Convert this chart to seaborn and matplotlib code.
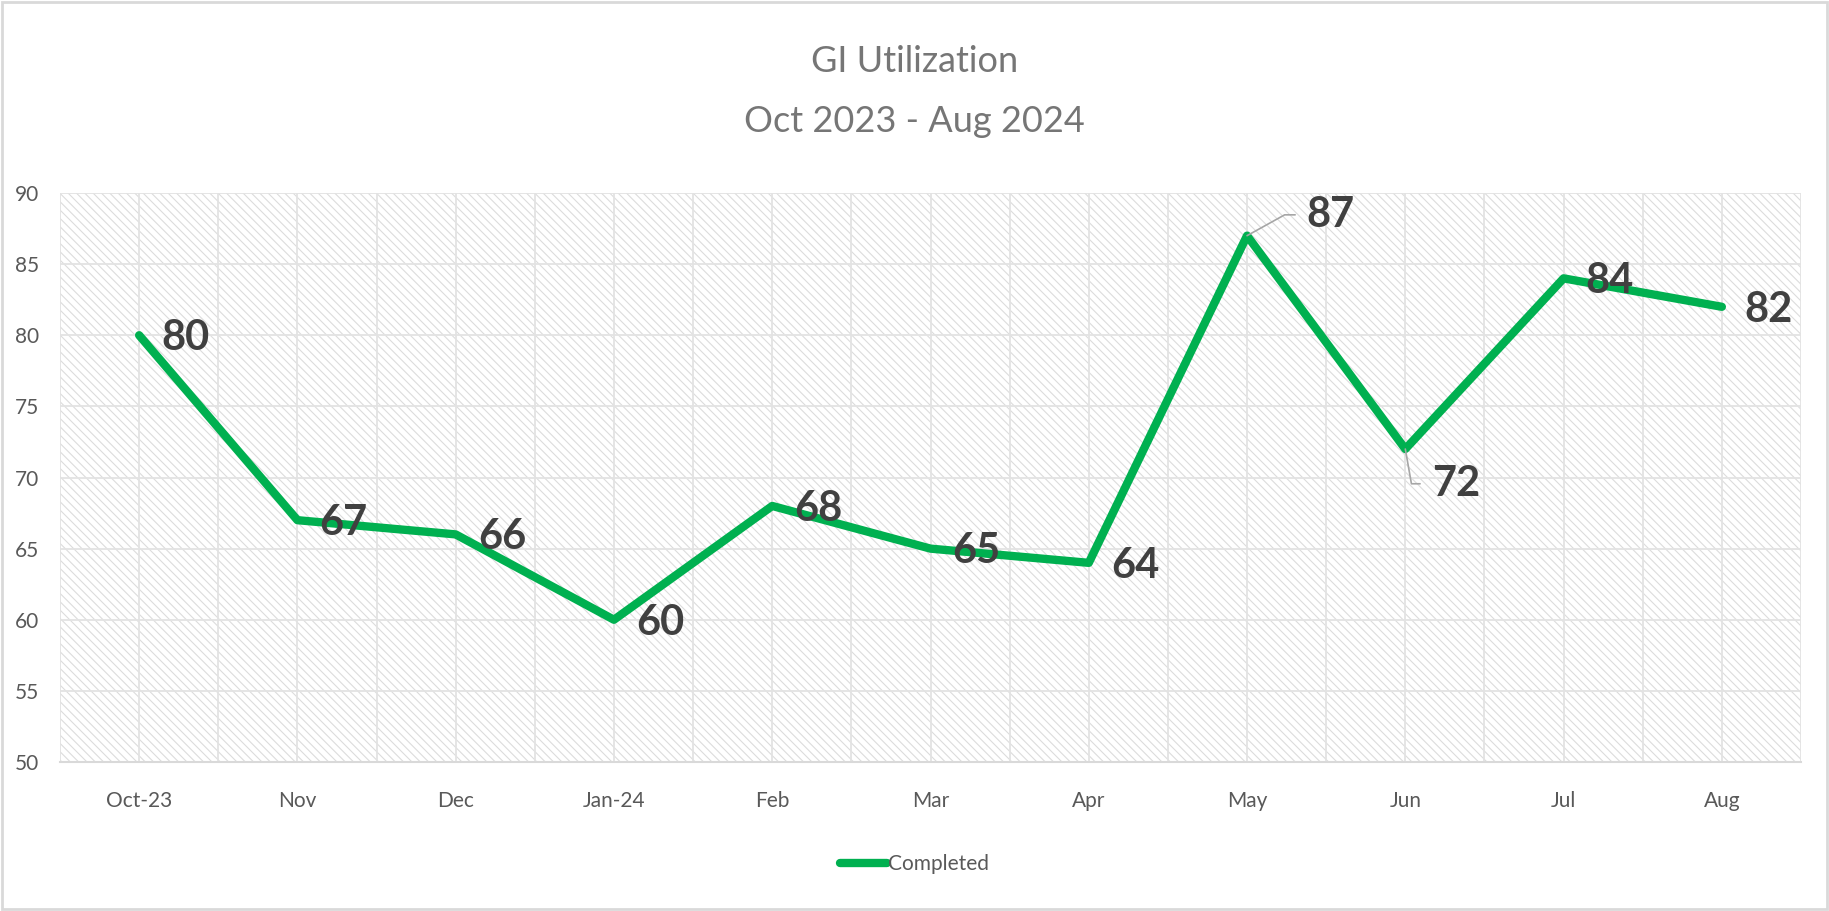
import numpy as np
import pandas as pd
import matplotlib
matplotlib.use("Agg")
import matplotlib.pyplot as plt
from matplotlib.patches import Rectangle
import seaborn as sns

months = ["Oct-23", "Nov", "Dec", "Jan-24", "Feb", "Mar", "Apr", "May", "Jun", "Jul", "Aug"]
completed = [80, 67, 66, 60, 68, 65, 64, 87, 72, 84, 82]
title_line1 = "GI Utilization"
title_line2 = "Oct 2023 - Aug 2024"
series_name = "Completed"

sns.set_theme(style="white")
FONT = ["Lato", "DejaVu Sans"]
plt.rcParams["font.family"] = FONT
plt.rcParams["hatch.linewidth"] = 0.8

GREEN = "#00B050"
TICK_C = "#595959"
LABEL_C = "#404040"
GRID_C = "#e3e3e3"

df = pd.DataFrame({"x": np.arange(len(months)), "Month": months, series_name: completed})

fig = plt.figure(figsize=(18.29, 9.11), dpi=100)
ax = fig.add_axes([60 / 1829, 1 - 762 / 911, (1801 - 60) / 1829, (762 - 193) / 911])

# hatched plot area
ax.add_patch(Rectangle((0, 0), 1, 1, transform=ax.transAxes, facecolor="white",
                       edgecolor="#dcdcdc", hatch="\\\\\\\\", lw=0, zorder=0.1))

sns.lineplot(data=df, x="x", y=series_name, ax=ax, color=GREEN, linewidth=6,
             sort=False, label=series_name, zorder=3)
for l in ax.get_lines():
    l.set_solid_capstyle("round")
    l.set_solid_joinstyle("round")

ax.set_xlim(-0.5, len(months) - 0.5)
ax.set_ylim(50, 90)
ax.set_yticks(np.arange(50, 91, 5))
ax.set_xticks(np.arange(len(months)))
ax.set_xticklabels(months)
ax.set_xticks(np.arange(len(months) + 1) - 0.5, minor=True)
ax.set_xlabel("")
ax.set_ylabel("")
ax.set_axisbelow(True)
ax.grid(True, which="both", axis="x", color=GRID_C, linewidth=1.3)
ax.grid(True, which="major", axis="y", color=GRID_C, linewidth=1.3)
for s in ["top", "right", "left"]:
    ax.spines[s].set_visible(False)
ax.spines["bottom"].set_color("#d9d9d9")
ax.spines["bottom"].set_linewidth(1.5)
ax.tick_params(axis="x", which="both", length=0, pad=21, labelsize=15, labelcolor=TICK_C)
ax.tick_params(axis="y", length=0, pad=15, labelsize=15, labelcolor=TICK_C)

# data labels
special = {
    "May": dict(off=(43, 15), conn="angle,angleA=0,angleB=29,rad=0"),
    "Jun": dict(off=(19, -25), conn="angle,angleA=0,angleB=100,rad=0"),
}
for i, (m, v) in enumerate(zip(months, completed)):
    if m in special:
        sp = special[m]
        ax.annotate(str(v), xy=(i, v), xytext=sp["off"], textcoords="offset points",
                    ha="left", va="center", fontsize=30, fontweight="bold", color=LABEL_C,
                    zorder=5,
                    arrowprops=dict(arrowstyle="-", color="#a6a6a6", lw=1.2,
                                    connectionstyle=sp["conn"], relpos=(0, 0.5),
                                    shrinkA=6, shrinkB=0))
    else:
        ax.annotate(str(v), xy=(i, v), xytext=(16, -2), textcoords="offset points",
                    ha="left", va="center", fontsize=30, fontweight="bold", color=LABEL_C,
                    zorder=5)

# titles
fig.text(0.5, 1 - 61 / 911, title_line1, ha="center", va="center", fontsize=26, color="#767676")
fig.text(0.5, 1 - 122 / 911, title_line2, ha="center", va="center", fontsize=26, color="#767676")

# legend
leg = ax.legend(loc="center", bbox_to_anchor=(0.5, 1 - 864 / 911), bbox_transform=fig.transFigure,
                frameon=False, fontsize=15, handlelength=2.3, handletextpad=0.05)
for t in leg.get_texts():
    t.set_color(TICK_C)
for h in leg.legend_handles:
    h.set_solid_capstyle("round")

# chart border
fig.patches.append(Rectangle((0.001, 0.002), 0.998, 0.996, transform=fig.transFigure,
                             fill=False, edgecolor="#d9d9d9", lw=2))

fig.savefig("out.png", dpi=100, facecolor="white")
